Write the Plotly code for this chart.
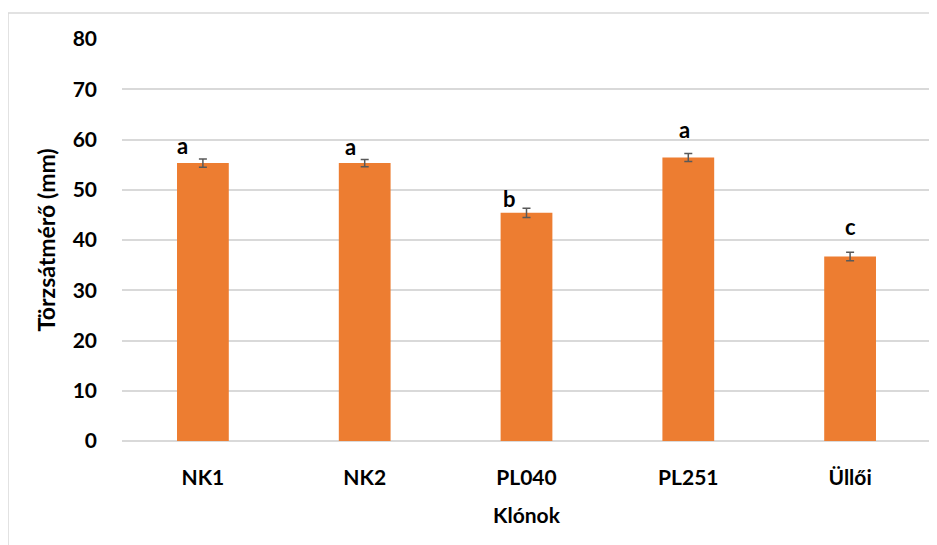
import plotly.graph_objects as go

clones = ["NK1", "NK2", "PL040", "PL251", "Üllői"]
diameter = [55.3, 55.3, 45.4, 56.4, 36.7]
std_err = [0.8, 0.7, 0.9, 0.8, 0.85]
groups = ["a", "a", "b", "a", "c"]
y_ticks = [0, 10, 20, 30, 40, 50, 60, 70, 80]

ORANGE = "#ED7D31"
FONT = "Lato, 'Open Sans', sans-serif"

fig = go.Figure(go.Bar(
    x=list(range(len(clones))),
    y=diameter,
    width=0.32,
    marker=dict(color=ORANGE, line=dict(width=0)),
    error_y=dict(type="data", array=std_err, visible=True,
                 color="#595959", thickness=1.5, width=4),
))

# significance letters, hand-placed like in the original
x_nudge = [-20, -14, -17, -4, 0]
y_nudge = [-4, -4, -8, 7, 8]
for i, (g, v, e) in enumerate(zip(groups, diameter, std_err)):
    fig.add_annotation(
        x=i, y=v + e, text=f"<b>{g}</b>", showarrow=False,
        yanchor="bottom", yshift=2 + y_nudge[i], xshift=x_nudge[i],
        font=dict(size=22, color="#000000", family=FONT),
    )

fig.add_shape(
    type="rect", xref="paper", yref="paper",
    x0=-0.1409, x1=1.05, y0=-0.3, y1=1.0646,
    line=dict(color="#D9D9D9", width=1.5), fillcolor="rgba(0,0,0,0)",
    layer="below",
)

fig.update_layout(
    width=929, height=537,
    margin=dict(l=114, r=6, t=31, b=104),
    paper_bgcolor="white", plot_bgcolor="white",
    font=dict(family=FONT, size=21, color="#000000"),
    showlegend=False,
    xaxis=dict(
        tickvals=list(range(len(clones))),
        ticktext=[f"<b>{c}</b>" for c in clones],
        range=[-0.5, len(clones) - 0.5],
        showgrid=False, zeroline=False,
        showline=False, ticks="",
        ticklabelstandoff=22,
        title=dict(text="<b>Klónok</b>", standoff=20, font=dict(size=21)),
    ),
    yaxis=dict(
        range=[0, 80],
        tickvals=y_ticks,
        ticktext=[f"<b>{t}</b>" for t in y_ticks],
        gridcolor="#D9D9D9", gridwidth=1.5,
        zeroline=True, zerolinecolor="#D9D9D9", zerolinewidth=1.5,
        showline=False, ticks="",
        ticklabelstandoff=24,
        title=dict(text="<b>Törzsátmérő (mm)</b>", standoff=10, font=dict(size=23)),
    ),
)

fig.write_html("out.html")
